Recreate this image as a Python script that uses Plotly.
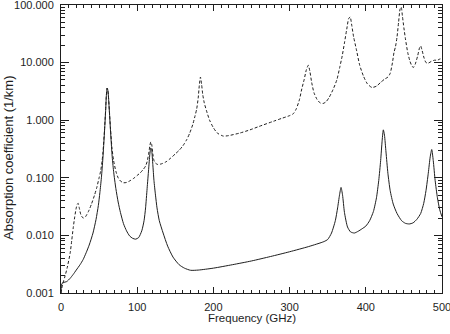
import plotly.graph_objects as go

# Dry-air absorption (oxygen lines)
dry_freq = [0, 0.5, 1, 3, 7.5, 12, 16, 20, 25, 29, 33, 37, 42, 46, 49, 51, 53, 55, 57,
            58.5, 59.5, 60.5, 61.5, 62.5, 63.5, 65, 67, 69, 72, 75, 78, 82, 86, 90, 94,
            98, 102, 106, 109, 111, 113, 115, 116.5, 117.8, 119, 120.5, 122, 124, 126,
            129, 134, 140, 147, 155, 162, 170, 180, 200, 225, 250, 275, 300, 325, 345,
            350, 355, 360, 363, 365.5, 367.5, 369.5, 372, 376, 380, 385, 390, 395, 400,
            405, 410, 414, 417, 419.5, 421.5, 423, 424.5, 426.5, 429, 432, 436, 441, 447,
            452, 457, 462, 467, 472, 476, 479, 482, 484.5, 486.5, 488.5, 491, 494, 497, 500]
dry_abs = [0.001, 0.0013, 0.00145, 0.00152, 0.00158, 0.0018, 0.0021, 0.0025, 0.0031,
           0.0038, 0.0050, 0.0068, 0.011, 0.019, 0.033, 0.055, 0.10, 0.22, 0.6,
           1.4, 2.6, 3.6, 3.3, 2.3, 1.4, 0.65, 0.25, 0.13, 0.065, 0.038, 0.025, 0.016,
           0.012, 0.0098, 0.0089, 0.0086, 0.0092, 0.012, 0.018, 0.03, 0.065, 0.14, 0.25,
           0.33, 0.3, 0.17, 0.09, 0.05, 0.03, 0.018, 0.011, 0.0065, 0.0042, 0.0031,
           0.0027, 0.00248, 0.0025, 0.0027, 0.0031, 0.0036, 0.0043, 0.0052, 0.0064,
           0.0078, 0.0085, 0.011, 0.018, 0.03, 0.05, 0.068, 0.05, 0.025, 0.014, 0.0115,
           0.011, 0.0118, 0.013, 0.0145, 0.018, 0.026, 0.045, 0.09, 0.2, 0.45, 0.68,
           0.55, 0.28, 0.12, 0.06, 0.035, 0.024, 0.018, 0.0162, 0.0158, 0.0165, 0.019,
           0.024, 0.036, 0.06, 0.12, 0.23, 0.31, 0.2, 0.09, 0.045, 0.028, 0.021]

# Moist-air absorption (oxygen plus water vapour lines)
moist_freq = [0, 2, 5, 8, 12, 14, 16, 18, 20, 21.5, 22.5, 24, 26, 29, 32, 36, 40, 44, 47,
              50, 52, 54, 55, 57, 58.5, 59.5, 60.5, 61.5, 62.5, 63.5, 65, 67, 69, 72, 75,
              78, 82, 86, 90, 95, 100, 104, 108, 111, 113, 115, 116.5, 117.8, 119, 120.5,
              122, 124, 127, 132, 138, 144, 150, 155, 160, 165, 169, 173, 176, 178, 180,
              181.5, 183, 184.5, 186, 188, 191, 195, 200, 205, 213, 220, 235, 248, 260,
              279, 290, 300, 305, 309, 313, 316, 319, 322, 324.5, 326.5, 329, 332, 336,
              340, 344, 348, 352, 357, 362, 366, 369, 372, 375, 377.5, 379.5, 381.5, 384,
              388, 392, 397, 402, 408, 414, 420, 425, 429, 432, 435, 437, 439, 441, 443,
              445, 446.5, 448, 450, 452, 455, 458, 461, 463, 465, 468, 470.5, 472, 474,
              476.5, 479, 482, 486, 490, 494, 497, 500]
moist_abs = [0.001, 0.0014, 0.0019, 0.0027, 0.0049, 0.008, 0.0134, 0.021, 0.030, 0.035,
             0.036, 0.030, 0.023, 0.020, 0.021, 0.026, 0.035, 0.050, 0.068, 0.10, 0.13,
             0.2, 0.27, 0.65, 1.45, 2.65, 3.6, 3.3, 2.35, 1.45, 0.7, 0.32, 0.2, 0.13, 0.1,
             0.088, 0.082, 0.083, 0.088, 0.097, 0.11, 0.122, 0.14, 0.16, 0.19, 0.26, 0.35,
             0.42, 0.38, 0.26, 0.2, 0.18, 0.17, 0.175, 0.19, 0.22, 0.26, 0.3, 0.36, 0.46,
             0.6, 0.85, 1.2, 1.55, 2.4, 4.0, 5.6, 4.2, 2.8, 2.0, 1.45, 1.0, 0.74, 0.6,
             0.53, 0.54, 0.6, 0.68, 0.78, 0.96, 1.08, 1.2, 1.3, 1.6, 2.3, 3.5, 5.0, 7.5,
             9.0, 7.2, 4.5, 3.0, 2.3, 2.0, 1.95, 2.1, 2.5, 3.4, 5.0, 8.5, 13, 22, 38, 58,
             62, 45, 28, 16, 9, 5.8, 4.3, 3.7, 3.9, 4.6, 5.2, 5.6, 6.5, 10, 15, 19, 28,
             50, 85, 92, 65, 40, 26, 15, 10.5, 8.5, 8.3, 9.5, 13, 18, 19.5, 16, 12, 10,
             9.8, 10.5, 11, 11, 11.5, 11.8]

y_tick_vals = [0.001, 0.01, 0.1, 1, 10, 100]
y_tick_text = ["0.001", "0.010", "0.100", "1.000", "10.000", "100.000"]
x_tick_vals = [0, 100, 200, 300, 400, 500]

ink = "#1e1e1e"
font = dict(family="Liberation Sans, Arial, sans-serif", size=11, color=ink)

fig = go.Figure()
fig.add_trace(go.Scatter(x=moist_freq, y=moist_abs, mode="lines",
                         line=dict(color=ink, width=1, dash="3px,2px", shape="spline",
                                   smoothing=0.6),
                         showlegend=False, hoverinfo="skip"))
fig.add_trace(go.Scatter(x=dry_freq, y=dry_abs, mode="lines",
                         line=dict(color=ink, width=1, shape="spline", smoothing=0.6),
                         showlegend=False, hoverinfo="skip"))

L, R, T, B = 61, 8, 5, 41
W, H = 450, 334
pw, ph = W - L - R, H - T - B
bottom_px = H - B


def paper_y(px):
    return (bottom_px - px) / ph


def paper_x(px):
    return (px - L) / pw


fig.update_layout(
    width=W, height=H,
    margin=dict(l=L, r=R, t=T, b=B, autoexpand=False),
    paper_bgcolor="white", plot_bgcolor="white",
    font=font,
    xaxis=dict(range=[0, 500], tickvals=x_tick_vals, ticks="inside", ticklen=6,
               tickcolor=ink, showline=True, linecolor=ink, linewidth=1,
               mirror="ticks", showgrid=False, zeroline=False, automargin=False,
               tickfont=font, ticklabelstandoff=4, ticklabeloverflow="allow",
               minor=dict(dtick=10, ticks="inside", ticklen=3, tickcolor=ink,
                          showgrid=False)),
    yaxis=dict(type="log", range=[-3, 2], tickvals=y_tick_vals,
               ticktext=y_tick_text, automargin=False,
               ticks="inside", ticklen=8, tickcolor=ink, showline=True, linecolor=ink,
               linewidth=1, mirror="ticks", showgrid=False, zeroline=False,
               tickfont=font, ticklabelstandoff=4, ticklabeloverflow="allow",
               minor=dict(dtick="D1", ticks="inside", ticklen=4, tickcolor=ink,
                          showgrid=False)),
    annotations=[
        dict(text="Frequency (GHz)", xref="paper", yref="paper",
             x=0.5, y=paper_y(318), xanchor="center",
             yanchor="middle", showarrow=False, font=dict(font, size=11.5)),
        dict(text="Absorption coefficient (1/km)", xref="paper", yref="paper",
             x=paper_x(8), y=paper_y(158), xanchor="center", yanchor="middle",
             textangle=-90, showarrow=False, font=dict(font, size=13)),
    ],
)

fig.write_html("out.html")
